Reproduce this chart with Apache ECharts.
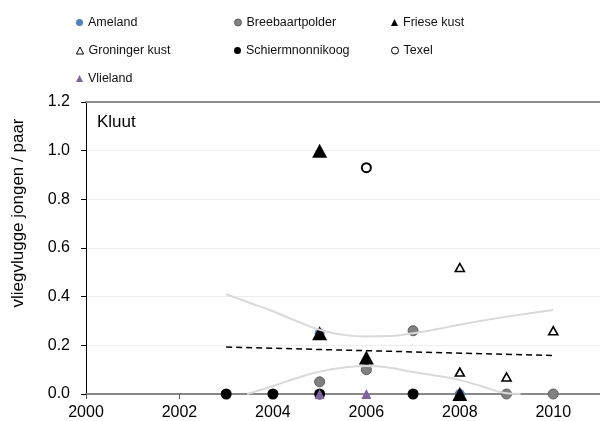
<!DOCTYPE html>
<html>
<head>
<meta charset="utf-8">
<script src="https://cdn.jsdelivr.net/npm/echarts@6/dist/echarts.min.js"></script>
<style>
html, body { margin: 0; padding: 0; background: #fff; }
#chart { width: 600px; height: 421px; }
</style>
</head>
<body>
<div id="chart"></div>
<script>
// waarden
var yTicks = [0.0, 0.2, 0.4, 0.6, 0.8, 1.0, 1.2];
var xTicks = [2000, 2002, 2004, 2006, 2008, 2010];

var ameland = [[2005, 0.25], [2008, 0.0]];
var breebaartpolder = [[2005, 0.05], [2006, 0.10], [2007, 0.26], [2009, 0.0], [2010, 0.0]];
var frieseKust = [[2005, 1.0], [2005, 0.25], [2006, 0.15], [2008, 0.0]];
var groningerKust = [[2008, 0.52], [2008, 0.09], [2009, 0.07], [2010, 0.26]];
var schiermonnikoog = [[2003, 0.0], [2004, 0.0], [2005, 0.0], [2007, 0.0]];
var texel = [[2006, 0.93]];
var vlieland = [[2005, 0.0], [2006, 0.0]];

// trendlijn en betrouwbaarheidsband
var trend = [[2003, 0.193], [2010, 0.158]];
var bandBoven = [[2003, 0.41], [2003.5, 0.375], [2004, 0.34], [2004.5, 0.30], [2005, 0.264],
    [2005.5, 0.243], [2006, 0.236], [2006.5, 0.238], [2007, 0.25], [2007.5, 0.266],
    [2008, 0.285], [2008.5, 0.302], [2009, 0.318], [2009.5, 0.332], [2010, 0.345]];
var bandOnder = [[2003.45, 0.0], [2004, 0.033], [2004.5, 0.065], [2005, 0.092], [2005.5, 0.108],
    [2006, 0.115], [2006.5, 0.108], [2007, 0.09], [2007.5, 0.075], [2008, 0.057],
    [2008.5, 0.03], [2009, 0.003], [2009.3, 0.0]];

var myChart = echarts.init(document.getElementById('chart'));
var font = 'Liberation Sans, Arial, sans-serif';

function legendItem(name, left, top) {
    return {
        data: [{ name: name, itemStyle: { borderWidth: 1 } }],
        left: left,
        top: top,
        padding: 0,
        itemWidth: 7,
        itemHeight: 7,
        selectedMode: false,
        textStyle: { fontFamily: font, fontSize: 12.5, color: '#111' }
    };
}

function bandLine(data) {
    return {
        type: 'line',
        data: data,
        smooth: true,
        showSymbol: false,
        silent: true,
        lineStyle: { color: '#d9d9d9', width: 2 },
        itemStyle: { color: '#d9d9d9' }
    };
}

function pts(name, data, symbol, size, style) {
    style.opacity = 1;
    return {
        name: name, type: 'scatter', data: data,
        symbol: symbol, symbolSize: size,
        itemStyle: style,
        emphasis: { disabled: true }
    };
}

var option = {
    animation: false,
    backgroundColor: '#fff',
    legend: [
        legendItem('Ameland', 76, 16),
        legendItem('Breebaartpolder', 234, 16),
        legendItem('Friese kust', 391, 16),
        legendItem('Groninger kust', 76, 44),
        legendItem('Schiermnonnikoog', 234, 44),
        legendItem('Texel', 391, 44),
        legendItem('Vlieland', 76, 72)
    ],
    grid: { left: 86, right: -3, top: 102, bottom: 27 },
    graphic: [{
        type: 'text',
        left: 97,
        top: 114,
        style: { text: 'Kluut', fontFamily: font, fontSize: 17, fill: '#000' }
    }, {
        type: 'text',
        x: 18,
        y: 213,
        rotation: Math.PI / 2,
        style: {
            text: 'vliegvlugge jongen / paar', fontFamily: font, fontSize: 17,
            fill: '#000', align: 'center', verticalAlign: 'middle'
        }
    }],
    xAxis: [{
        type: 'value',
        min: 2000,
        max: 2011,
        interval: 2,
        axisLine: { lineStyle: { color: '#888', width: 2 } },
        axisTick: { show: true, length: 5, lineStyle: { color: '#555' } },
        axisLabel: {
            showMaxLabel: false,
            fontFamily: font, fontSize: 16, color: '#000', margin: 11,
            formatter: function (v) { return xTicks.indexOf(v) >= 0 ? String(v) : ''; }
        },
        splitLine: { show: false }
    }, {
        type: 'value',
        position: 'top',
        min: 2000,
        max: 2011,
        axisLine: { show: true, lineStyle: { color: '#8c8c8c', width: 2 } },
        axisTick: { show: false },
        axisLabel: { show: false },
        splitLine: { show: false }
    }],
    yAxis: {
        type: 'value',
        min: 0,
        max: 1.2,
        interval: 0.2,
        axisLine: { show: true, lineStyle: { color: '#000', width: 1 } },
        axisTick: { show: true, length: 5, lineStyle: { color: '#000' } },
        axisLabel: {
            fontFamily: font, fontSize: 16, color: '#000', margin: 16,
            formatter: function (v) { return v.toFixed(1); }
        },
        splitLine: { lineStyle: { color: '#eeeeee', width: 1 } }
    },
    series: [
        bandLine(bandBoven),
        bandLine(bandOnder),
        {
            type: 'line',
            data: trend,
            showSymbol: false,
            silent: true,
            lineStyle: { color: '#000', width: 1.5, type: [6, 4] }
        },
        pts('Ameland', ameland, 'circle', 10, { color: '#4f81bd' }),
        pts('Breebaartpolder', breebaartpolder, 'circle', 10,
            { color: '#808080', borderColor: '#5f5f5f', borderWidth: 1 }),
        pts('Friese kust', frieseKust, 'triangle', [15, 14], { color: '#000' }),
        pts('Groninger kust', groningerKust, 'triangle', [9, 8],
            { color: '#fff', borderColor: '#000', borderWidth: 1.6 }),
        pts('Schiermnonnikoog', schiermonnikoog, 'circle', 11, { color: '#000' }),
        pts('Texel', texel, 'circle', 9,
            { color: '#fff', borderColor: '#000', borderWidth: 2 }),
        pts('Vlieland', vlieland, 'triangle', [10, 10], { color: '#8064a2' })
    ]
};

myChart.setOption(option);
</script>
</body>
</html>
